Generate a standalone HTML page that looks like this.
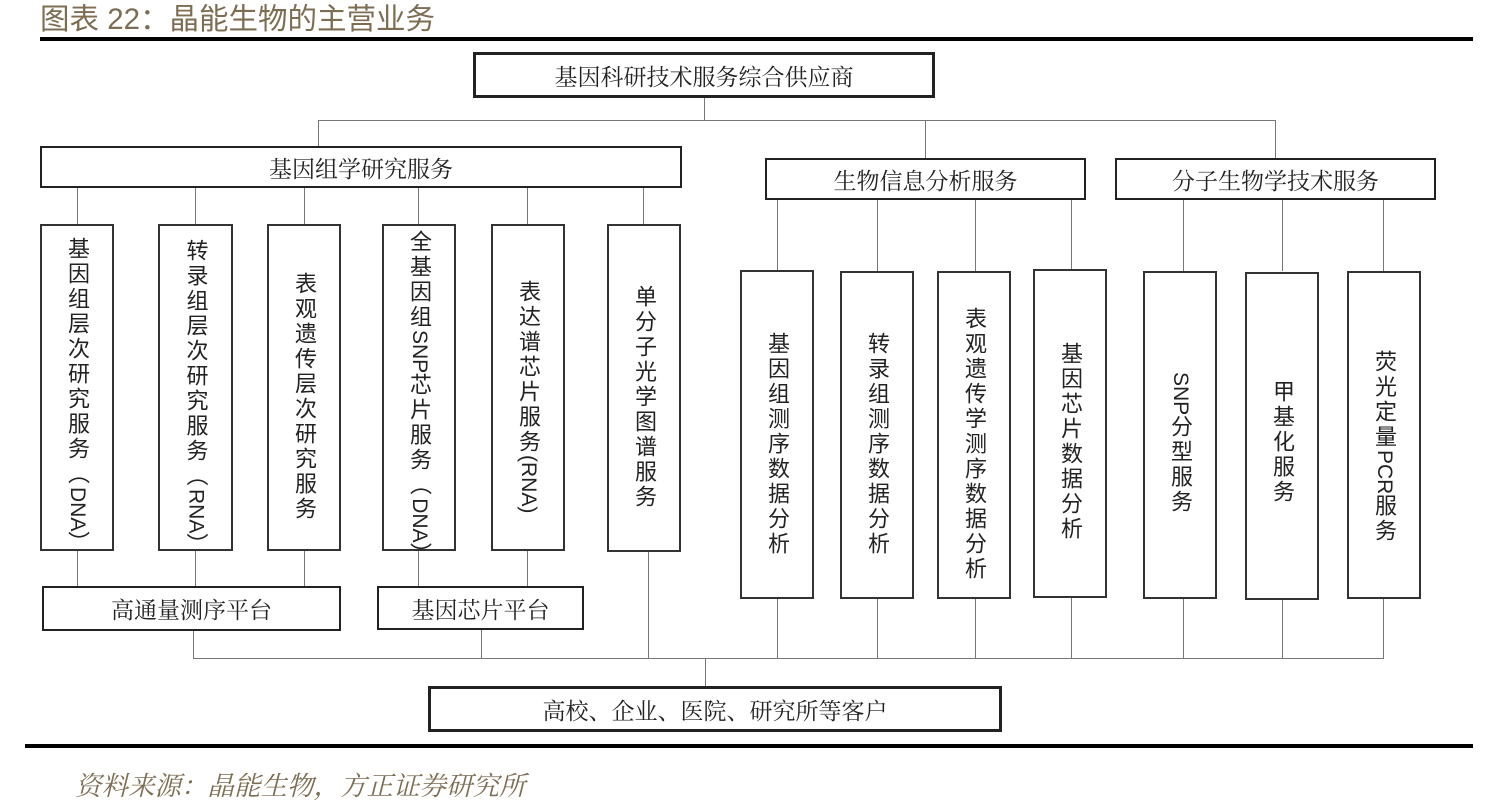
<!DOCTYPE html>
<html><head><meta charset="utf-8"><style>
body{margin:0;width:1485px;height:810px;background:#fff;position:relative;overflow:hidden;font-family:"Liberation Sans","Noto Sans CJK SC",sans-serif}
.a{position:absolute;box-sizing:border-box}
.h{border:2px solid #222;display:flex;align-items:center;justify-content:center;font-family:"Noto Serif CJK SC","Liberation Serif",serif;font-size:23px;color:#222;white-space:nowrap}
.v{border:2px solid #333;display:flex;justify-content:center;align-items:flex-start;color:#222}
.v span{writing-mode:vertical-rl;white-space:nowrap;font-family:"Liberation Sans","Noto Sans CJK SC",sans-serif;font-size:22px;letter-spacing:3px;line-height:1}
.v span b{font-weight:normal;letter-spacing:0;font-size:21px}
.l{position:absolute;background:#777}
</style></head><body>
<div class="a" style="left:40px;top:-4px;font-size:29.5px;color:#7d6d52;font-family:'Liberation Sans','Noto Sans CJK SC',sans-serif;white-space:nowrap">图表 22：晶能生物的主营业务</div>
<div class="a" style="left:40px;top:37px;width:1433px;height:4px;background:#000"></div>
<div class="a" style="left:25px;top:744px;width:1448px;height:4px;background:#000"></div>
<div class="a" style="left:75px;top:764px;font-size:26.5px;color:#7d6d52;font-style:italic;font-family:'Noto Serif CJK SC','Liberation Serif',serif;white-space:nowrap">资料来源：晶能生物，方正证券研究所</div>

<div class="l" style="left:704px;top:97px;width:1px;height:23px"></div>
<div class="l" style="left:318px;top:120px;width:958px;height:1px"></div>
<div class="l" style="left:318px;top:120px;width:1px;height:26px"></div>
<div class="l" style="left:925px;top:120px;width:1px;height:38px"></div>
<div class="l" style="left:1275px;top:120px;width:1px;height:38px"></div>
<div class="l" style="left:77px;top:187px;width:1px;height:37px"></div>
<div class="l" style="left:195px;top:187px;width:1px;height:37px"></div>
<div class="l" style="left:304px;top:187px;width:1px;height:37px"></div>
<div class="l" style="left:418px;top:187px;width:1px;height:37px"></div>
<div class="l" style="left:527px;top:187px;width:1px;height:37px"></div>
<div class="l" style="left:643px;top:187px;width:1px;height:37px"></div>
<div class="l" style="left:777px;top:199px;width:1px;height:72px"></div>
<div class="l" style="left:877px;top:199px;width:1px;height:72px"></div>
<div class="l" style="left:975px;top:199px;width:1px;height:72px"></div>
<div class="l" style="left:1071px;top:199px;width:1px;height:72px"></div>
<div class="l" style="left:1183px;top:199px;width:1px;height:72px"></div>
<div class="l" style="left:1282px;top:199px;width:1px;height:72px"></div>
<div class="l" style="left:1383px;top:199px;width:1px;height:72px"></div>
<div class="l" style="left:77px;top:550px;width:1px;height:36px"></div>
<div class="l" style="left:195px;top:550px;width:1px;height:36px"></div>
<div class="l" style="left:304px;top:550px;width:1px;height:36px"></div>
<div class="l" style="left:418px;top:550px;width:1px;height:36px"></div>
<div class="l" style="left:527px;top:550px;width:1px;height:36px"></div>
<div class="l" style="left:193px;top:630px;width:1px;height:28px"></div>
<div class="l" style="left:481px;top:629px;width:1px;height:29px"></div>
<div class="l" style="left:648px;top:551px;width:1px;height:107px"></div>
<div class="l" style="left:193px;top:658px;width:1191px;height:1px"></div>
<div class="l" style="left:705px;top:658px;width:1px;height:28px"></div>
<div class="l" style="left:777px;top:598px;width:1px;height:60px"></div>
<div class="l" style="left:877px;top:598px;width:1px;height:60px"></div>
<div class="l" style="left:975px;top:598px;width:1px;height:60px"></div>
<div class="l" style="left:1071px;top:598px;width:1px;height:60px"></div>
<div class="l" style="left:1183px;top:598px;width:1px;height:60px"></div>
<div class="l" style="left:1282px;top:598px;width:1px;height:60px"></div>
<div class="l" style="left:1383px;top:598px;width:1px;height:60px"></div>

<div class="a h" style="left:473px;top:52px;width:462px;height:46px;border-width:3px">基因科研技术服务综合供应商</div>
<div class="a h" style="left:40px;top:146px;width:642px;height:42px">基因组学研究服务</div>
<div class="a h" style="left:765px;top:158px;width:321px;height:42px">生物信息分析服务</div>
<div class="a h" style="left:1115px;top:158px;width:321px;height:42px">分子生物学技术服务</div>
<div class="a h" style="left:42px;top:586px;width:299px;height:45px">高通量测序平台</div>
<div class="a h" style="left:377px;top:586px;width:207px;height:44px">基因芯片平台</div>
<div class="a h" style="left:428px;top:686px;width:574px;height:46px;border-width:3px">高校、企业、医院、研究所等客户</div>

<div class="a v" style="left:40px;top:224px;width:74px;height:327px;padding-top:11px"><span>基因组层次研究服务（<b>DNA</b>）</span></div>
<div class="a v" style="left:158px;top:224px;width:75px;height:327px;padding-top:13px"><span>转录组层次研究服务（<b>RNA</b>）</span></div>
<div class="a v" style="left:267px;top:224px;width:74px;height:327px;padding-top:46px"><span>表观遗传层次研究服务</span></div>
<div class="a v" style="left:382px;top:224px;width:74px;height:327px;padding-top:4px"><span>全基因组<b>SNP</b>芯片服务（<b>DNA</b>）</span></div>
<div class="a v" style="left:491px;top:224px;width:74px;height:327px;padding-top:54px"><span>表达谱芯片服务<b>(RNA)</b></span></div>
<div class="a v" style="left:607px;top:224px;width:74px;height:328px;padding-top:59px"><span>单分子光学图谱服务</span></div>

<div class="a v" style="left:740px;top:270px;width:74px;height:329px;padding-top:60px"><span>基因组测序数据分析</span></div>
<div class="a v" style="left:840px;top:271px;width:74px;height:328px;padding-top:59px"><span>转录组测序数据分析</span></div>
<div class="a v" style="left:937px;top:271px;width:74px;height:328px;padding-top:34px"><span>表观遗传学测序数据分析</span></div>
<div class="a v" style="left:1033px;top:269px;width:74px;height:329px;padding-top:71px"><span>基因芯片数据分析</span></div>
<div class="a v" style="left:1143px;top:271px;width:74px;height:328px;padding-top:99px"><span><b>SNP</b>分型服务</span></div>
<div class="a v" style="left:1245px;top:272px;width:74px;height:328px;padding-top:106px"><span>甲基化服务</span></div>
<div class="a v" style="left:1347px;top:271px;width:74px;height:328px;padding-top:77px"><span>荧光定量<b>PCR</b>服务</span></div>
</body></html>
